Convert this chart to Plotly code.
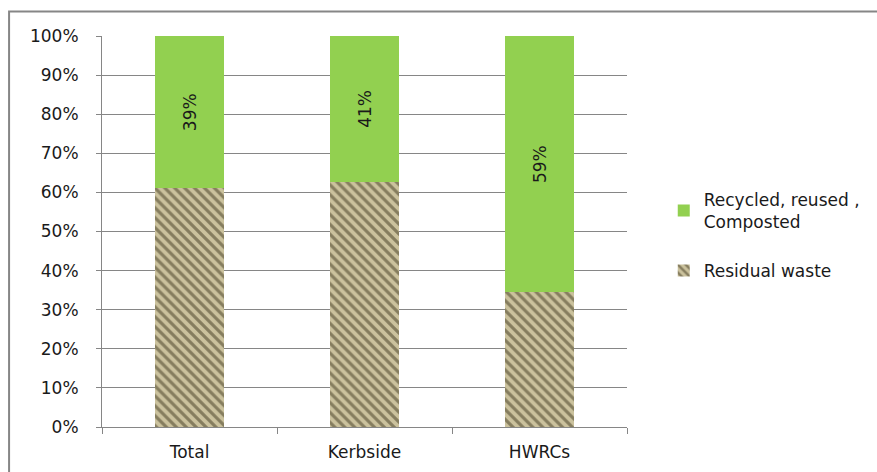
import plotly.graph_objects as go

categories = ["Total", "Kerbside", "HWRCs"]
residual = [61, 69, 31]
recycled = [39, 41, 59]
recycled_labels = ["39%", "41%", "59%"]

FONT = "DejaVu Sans"
GRID = "#868686"
FS = 17

fig = go.Figure()
fig.add_trace(go.Bar(
    x=categories, y=residual, name="Residual waste", legendgroup="b", legendrank=2,
    marker=dict(color="#c9c09b", line=dict(width=0),
                pattern=dict(shape="\\", fgcolor="#40371f", bgcolor="#cbc29d",
                             size=7, solidity=0.45)),
    hoverinfo="skip",
))
fig.add_trace(go.Bar(
    x=categories, y=recycled, name="Recycled, reused ,<br>Composted", legendgroup="a",
    legendrank=1,
    marker=dict(color="#92d050", line=dict(width=0)),
    text=recycled_labels, textposition="inside", insidetextanchor="middle",
    textangle=-90, textfont=dict(family=FONT, size=FS, color="#1a1a1a"),
    hoverinfo="skip",
))

fig.update_layout(
    barmode="stack", barnorm="percent", bargap=0.605,
    width=877, height=472,
    margin=dict(l=102, r=250, t=36, b=45),
    paper_bgcolor="white", plot_bgcolor="white",
    font=dict(family=FONT, size=FS, color="#1a1a1a"),
    showlegend=True,
    legend=dict(x=1.07, y=0.627, xanchor="left", yanchor="top",
                font=dict(family=FONT, size=FS, color="#1a1a1a"),
                traceorder="grouped", tracegroupgap=24, itemwidth=30),
    uniformtext=dict(mode=False),
    shapes=[dict(type="rect", xref="paper", yref="paper",
                 x0=-0.177, x1=2.0, y0=-1.0, y1=1.0627,
                 line=dict(color=GRID, width=2), fillcolor="rgba(0,0,0,0)",
                 layer="below")],
)
fig.update_xaxes(showline=True, linecolor=GRID, linewidth=1, showgrid=False,
                 ticks="outside", ticklen=6, tickcolor=GRID, tickson="boundaries",
                 ticklabelstandoff=10, automargin=False,
                 tickfont=dict(family=FONT, size=FS, color="#1a1a1a"))
fig.update_yaxes(range=[0, 100], dtick=10, ticksuffix="%", showgrid=True,
                 gridcolor=GRID, gridwidth=1, showline=True, linecolor=GRID,
                 linewidth=1, ticks="outside", ticklen=5, tickcolor=GRID,
                 ticklabelstandoff=14, automargin=False,
                 tickfont=dict(family=FONT, size=FS, color="#1a1a1a"))

fig.write_html("out.html")
